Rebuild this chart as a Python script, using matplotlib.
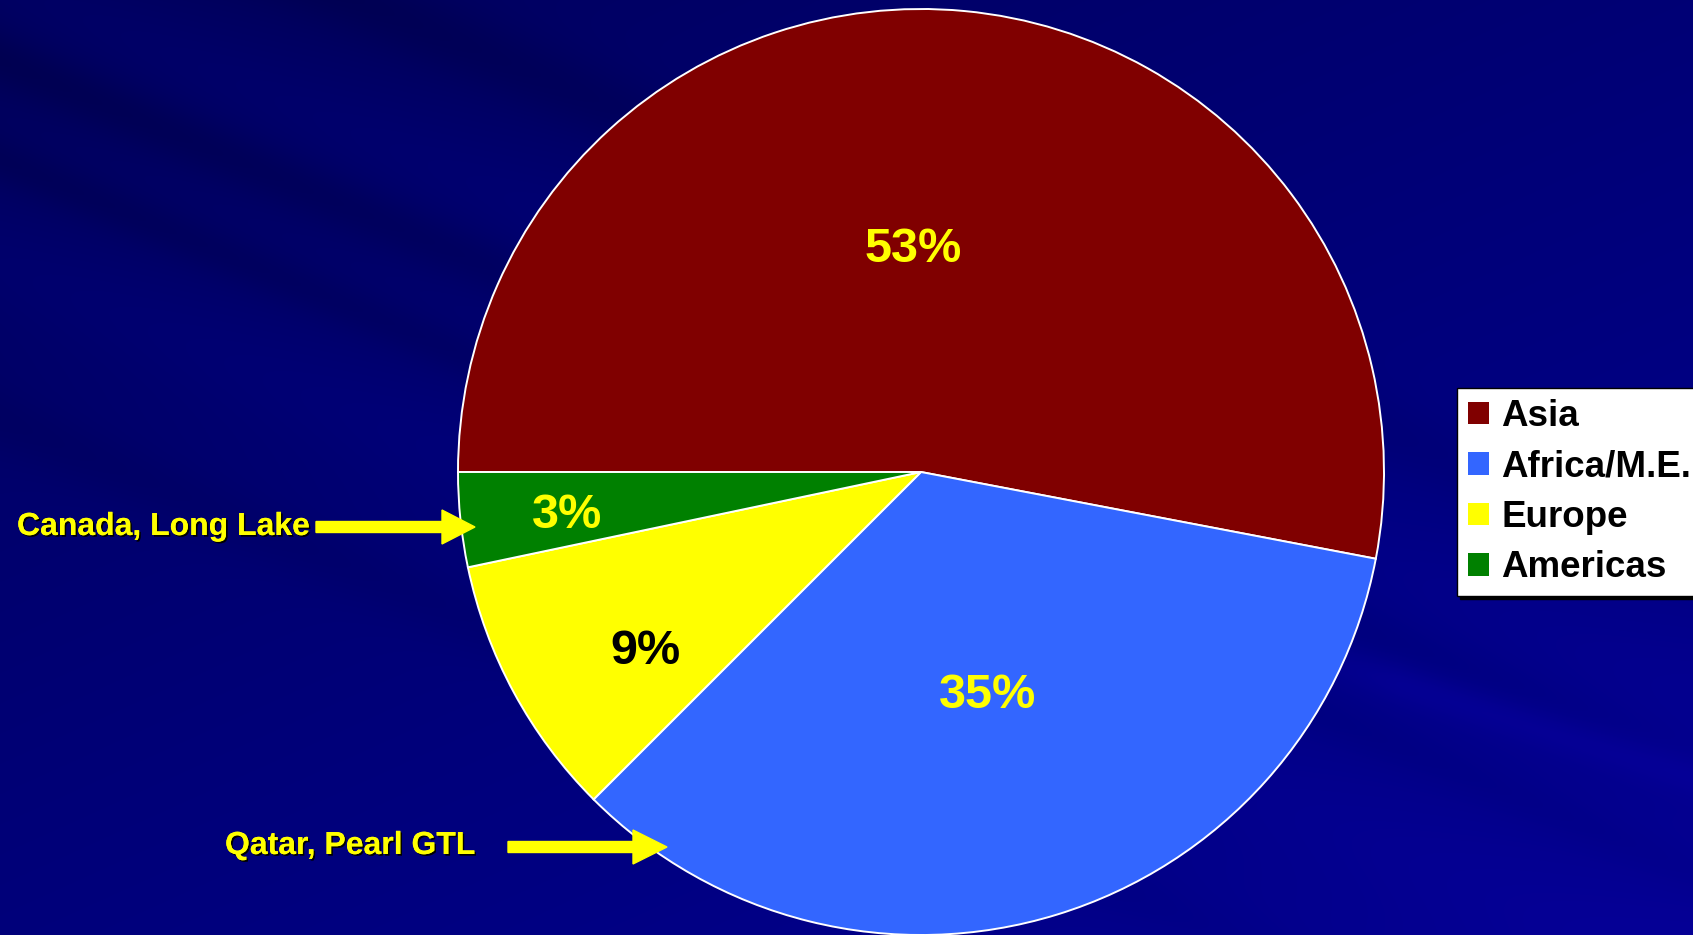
import matplotlib.pyplot as plt
import matplotlib.patheffects as pe
from matplotlib.patches import FancyArrow
import numpy as np

plt.rcParams['font.family'] = ['Liberation Sans', 'DejaVu Sans']
plt.rcParams['font.weight'] = 'bold'

# data
regions = ["Asia", "Africa/M.E.", "Europe", "Americas"]
shares = [53.0, 34.5, 9.2, 3.3]
colors = ["#800000", "#3366FF", "#FFFF00", "#008000"]
pct_colors = ["#FFFF00", "#FFFF00", "#000000", "#FFFF00"]
# label placement (polar, relative to pie)
pct_angle = [92.0, -73.0, -147.5, -173.6]
pct_radius = [0.49, 0.495, 0.706, 0.77]

W, H = 1693, 935
fig = plt.figure(figsize=(W / 100, H / 100), dpi=100)
ax = fig.add_axes([0, 0, 1, 1])

# background: dark navy gradient with soft diagonal streaks
yy, xx = np.mgrid[0:H, 0:W]
t = np.clip(0.55 * yy / H + 0.45 * xx / W, 0, 1)
base = 0.36 + 0.22 * t
u = yy - 0.42 * xx
for c, w, amp in [(-150, 40, -0.06), (60, 30, -0.05), (160, 25, -0.04), (260, 60, 0.03),
                  (420, 35, -0.03), (-20, 50, 0.03)]:
    base += amp * np.exp(-((u - c) / w) ** 2) * (1 - 0.6 * xx / W)
v = yy - 0.32 * (xx - 1300)
base += 0.05 * np.exp(-((v - 650) / 22) ** 2) * (xx > 1250) * np.clip((xx - 1250) / 150, 0, 1)
img = np.zeros((H, W, 3))
img[..., 2] = np.clip(base, 0, 1)
img[..., 0] = np.clip((base - 0.5) * 0.25, 0, 1)
ax.imshow(img, extent=(0, W, 0, H), origin='upper', zorder=0, aspect='auto')

cx, cy, r = 921, H - 472, 463
wedges, texts = ax.pie(
    shares, colors=colors, startangle=180, counterclock=False,
    center=(cx, cy), radius=r,
    wedgeprops=dict(edgecolor='white', linewidth=1.4))

for s, col, a, d in zip(shares, pct_colors, pct_angle, pct_radius):
    ang = np.deg2rad(a)
    ax.text(cx + d * r * np.cos(ang), cy + d * r * np.sin(ang) - 4, f"{int(s + 0.5)}%",
            color=col, fontsize=35, fontweight='bold', ha='center', va='center', zorder=4)

ax.set_xlim(0, W)
ax.set_ylim(0, H)
ax.axis('off')

shadow = [pe.withSimplePatchShadow(offset=(1.2, -1.2), shadow_rgbFace='black', alpha=1.0), pe.Normal()]
ax.text(17, H - 527, "Canada, Long Lake", color="#FFFF00", fontsize=23,
        fontweight='bold', va='center', ha='left', path_effects=shadow)
ax.text(225, H - 846, "Qatar, Pearl GTL", color="#FFFF00", fontsize=23,
        fontweight='bold', va='center', ha='left', path_effects=shadow)

ax.add_patch(FancyArrow(316, H - 527, 159, 0, width=11, head_width=34, head_length=33,
                        length_includes_head=True, color="#FFFF00", zorder=5))
ax.add_patch(FancyArrow(508, H - 847, 159, 0, width=11, head_width=34, head_length=34,
                        length_includes_head=True, color="#FFFF00", zorder=5))

leg = ax.legend(wedges, regions, loc='upper left', bbox_to_anchor=(1457 / W, 1 - 388 / H),
                bbox_transform=fig.transFigure, prop=dict(size=26.5, weight='bold'),
                handlelength=0.58, handleheight=0.58, handletextpad=0.33,
                borderpad=0.3, labelspacing=0.42, borderaxespad=0,
                frameon=True, fancybox=False, edgecolor='black', framealpha=1,
                shadow={'color': 'black', 'alpha': 1})
leg.get_frame().set_linewidth(1.0)
for h in leg.legend_handles:
    h.set_edgecolor('none')

fig.savefig("out.png", dpi=100)
